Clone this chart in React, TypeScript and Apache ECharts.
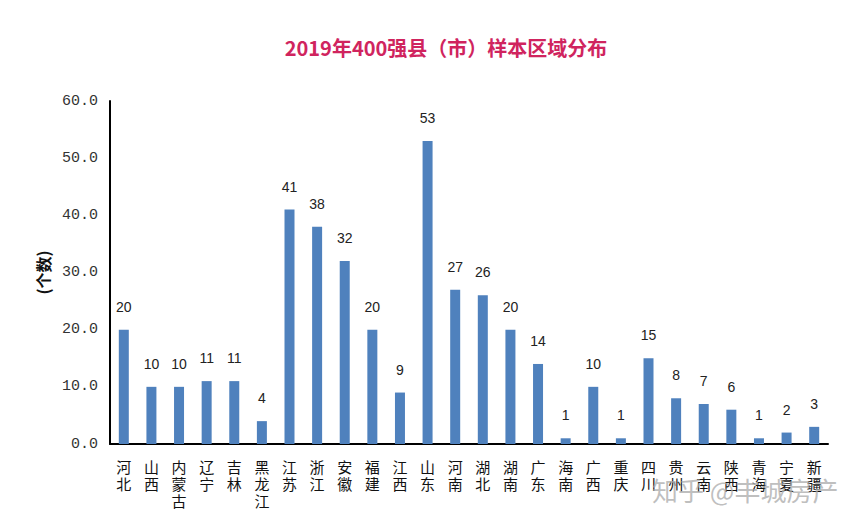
import React, { useEffect, useRef } from "react";
import * as echarts from "echarts";

const title = "2019年400强县（市）样本区域分布";
const yAxisName = "(个数)";
const categories = ["河北", "山西", "内蒙古", "辽宁", "吉林", "黑龙江", "江苏", "浙江", "安徽", "福建", "江西", "山东", "河南", "湖北", "湖南", "广东", "海南", "广西", "重庆", "四川", "贵州", "云南", "陕西", "青海", "宁夏", "新疆"];
const counts = [20, 10, 10, 11, 11, 4, 41, 38, 32, 20, 9, 53, 27, 26, 20, 14, 1, 10, 1, 15, 8, 7, 6, 1, 2, 3];
const watermark = "知乎 @丰城房产";

export default function App() {
  const ref = useRef<HTMLDivElement>(null);
  useEffect(() => {
    document.body.style.margin = "0";
    const chart = echarts.init(ref.current!, null, { renderer: "svg" });
    chart.setOption({
      animation: false,
      backgroundColor: "#ffffff",
      title: {
        text: title,
        left: 441,
        top: 32,
        textAlign: "center",
        textStyle: { color: "#d0245e", fontSize: 20, fontWeight: "bold", fontFamily: "Noto Sans CJK SC" },
      },
      grid: { left: 110, right: 30, top: 101, bottom: 88 },
      xAxis: {
        type: "category",
        data: categories,
        axisLine: { lineStyle: { color: "#000", width: 2 } },
        axisTick: { show: false },
        axisLabel: {
          interval: 0,
          margin: 14,
          color: "#111",
          fontSize: 15,
          lineHeight: 17,
          fontFamily: "Noto Sans CJK SC",
          verticalAlign: "top",
          formatter: (v: string) => v.split("").join("\n"),
        },
      },
      yAxis: {
        type: "value",
        min: 0,
        max: 60,
        interval: 10,
        name: yAxisName,
        nameLocation: "middle",
        nameGap: 58,
        nameRotate: 90,
        nameTextStyle: { color: "#111", fontSize: 16, fontWeight: "bold", fontFamily: "Noto Sans CJK SC" },
        axisLine: { show: true, lineStyle: { color: "#000", width: 2 } },
        axisTick: { show: false },
        splitLine: { show: false },
        axisLabel: {
          margin: 12,
          color: "#333",
          fontSize: 15,
          fontFamily: "Liberation Mono",
          formatter: (v: number) => v.toFixed(1),
        },
      },
      series: [
        {
          type: "bar",
          data: counts,
          barWidth: 10,
          itemStyle: { color: "#4f81bd" },
          label: {
            show: true,
            position: "top",
            distance: 16,
            color: "#222",
            fontSize: 14,
            fontFamily: "Liberation Sans",
          },
        },
      ],
      graphic: [
        {
          type: "text",
          left: 652,
          top: 476,
          z: 100,
          style: {
            text: watermark,
            fill: "rgba(170,170,170,0.75)",
            fontSize: 26,
            fontFamily: "Noto Sans CJK SC",
          },
        },
      ],
    });
    return () => chart.dispose();
  }, []);
  return <div ref={ref} style={{ width: 858, height: 532 }} />;
}
